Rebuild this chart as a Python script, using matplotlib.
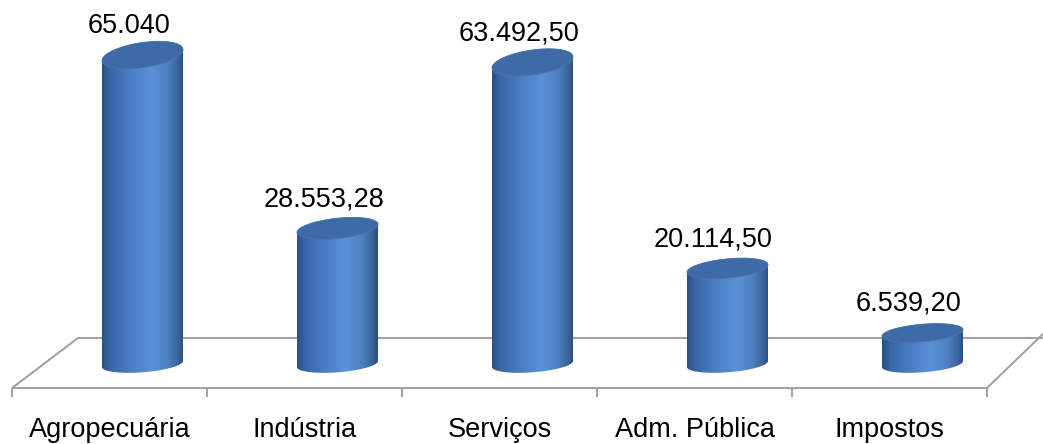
import numpy as np
import matplotlib
matplotlib.use("Agg")
import matplotlib.pyplot as plt
from matplotlib.patches import Polygon
from matplotlib.colors import LinearSegmentedColormap

# ---- data ----
categories = ["Agropecuária", "Indústria", "Serviços", "Adm. Pública", "Impostos"]
values = [65040.00, 28553.28, 63492.50, 20114.50, 6539.20]
value_labels = ["65.040", "28.553,28", "63.492,50", "20.114,50", "6.539,20"]

# ---- layout (pixels) ----
W, H = 1043, 444
X0_PX = 109.5        # pixel x of first category centre (front edge)
STEP_PX = 195.0      # pixel per category
BASE_PX = 364.0      # pixel y of value 0 (cylinder bottom centre)
PX_PER_K = 4.75      # pixel per 1000 units
DEPTH_DX = 33.0      # cylinder centre offset to the right (depth)
HALF_W = 40.5        # cylinder half width in px

fig = plt.figure(figsize=(W / 100, H / 100), dpi=100)
ax = fig.add_axes([0, 0, 1, 1])
ax.axis("off")

sx = 1.0 / STEP_PX    # data-x per pixel
sy = 1.0 / PX_PER_K   # data-y per pixel


def px2d(px, py):
    return (px - X0_PX) / STEP_PX, (BASE_PX - py) / PX_PER_K


# ---- floor ----
floor_col = "#A3A3A3"
flw = 1.5
front_y = 388
back_y = 338


def seg(p0, p1):
    a, b = px2d(*p0), px2d(*p1)
    ax.plot([a[0], b[0]], [a[1], b[1]], color=floor_col, lw=flw, zorder=1,
            solid_capstyle="butt")


seg((12, front_y), (78, back_y))
seg((78, back_y), (1045, back_y))
seg((987, front_y), (1045, 332))
seg((12, front_y), (987, front_y))
for k in range(len(categories) + 1):
    tx = k - 0.5
    ax.plot([tx, tx], [px2d(0, front_y)[1], px2d(0, 397)[1]], color=floor_col,
            lw=flw, zorder=1, solid_capstyle="butt")

# ---- cylinders ----
body_cmap = LinearSegmentedColormap.from_list(
    "cyl",
    [(0.0, "#2A5186"), (0.10, "#3866A6"), (0.35, "#4A7EC3"), (0.60, "#5B91D7"),
     (0.80, "#4E81C2"), (0.93, "#3A6499"), (1.0, "#2B4C7B")])
top_col = "#3E6AA5"


def ell_params(py):
    h = BASE_PX - py
    b = 8.3 + h * (4.2 / 304.0)
    ka = 3.0 + h * (2.5 / 304.0)
    return b, ka


def ellipse_pts(cx, cy, t):
    cy_px = BASE_PX - cy * PX_PER_K
    b, ka = ell_params(cy_px)
    x = cx + HALF_W * np.cos(t) * sx
    y = cy + (b * np.sin(t) + ka * np.cos(t)) * sy
    return x, y


for i, v in enumerate(values):
    vk = v / 1000.0
    cx = i + DEPTH_DX * sx
    t_front = np.linspace(np.pi, 2 * np.pi, 80)
    t_back = np.linspace(0, np.pi, 80)
    bx, by = ellipse_pts(cx, 0.0, t_front)
    tx, ty = ellipse_pts(cx, vk, t_back)
    poly = np.column_stack([np.concatenate([bx, tx]), np.concatenate([by, ty])])
    body = Polygon(poly, closed=True, facecolor="none", edgecolor="none", zorder=3)
    ax.add_patch(body)
    grad = np.linspace(0, 1, 256).reshape(1, -1)
    im = ax.imshow(grad, cmap=body_cmap, aspect="auto",
                   extent=[cx - HALF_W * sx, cx + HALF_W * sx, by.min() - 1, ty.max() + 1],
                   interpolation="bilinear", zorder=3)
    im.set_clip_path(body)
    t_all = np.linspace(0, 2 * np.pi, 160)
    ex, ey = ellipse_pts(cx, vk, t_all)
    ax.add_patch(Polygon(np.column_stack([ex, ey]), closed=True, facecolor=top_col,
                         edgecolor="#4775B2", lw=0.6, zorder=4))
    # value label
    ax.text(cx - 14 * sx, vk + 22 * sy, value_labels[i], ha="center", va="baseline",
            fontsize=19.5, family="Liberation Sans", color="black", zorder=5)

# ---- category labels ----
for i, c in enumerate(categories):
    ax.text(i, px2d(0, 437)[1], c, ha="center", va="baseline",
            fontsize=19.5, family="Liberation Sans", color="black")

ax.set_xlim((0 - X0_PX) / STEP_PX, (W - X0_PX) / STEP_PX)
ax.set_ylim((BASE_PX - H) / PX_PER_K, BASE_PX / PX_PER_K)
fig.savefig("out.png", dpi=100, facecolor="white")
